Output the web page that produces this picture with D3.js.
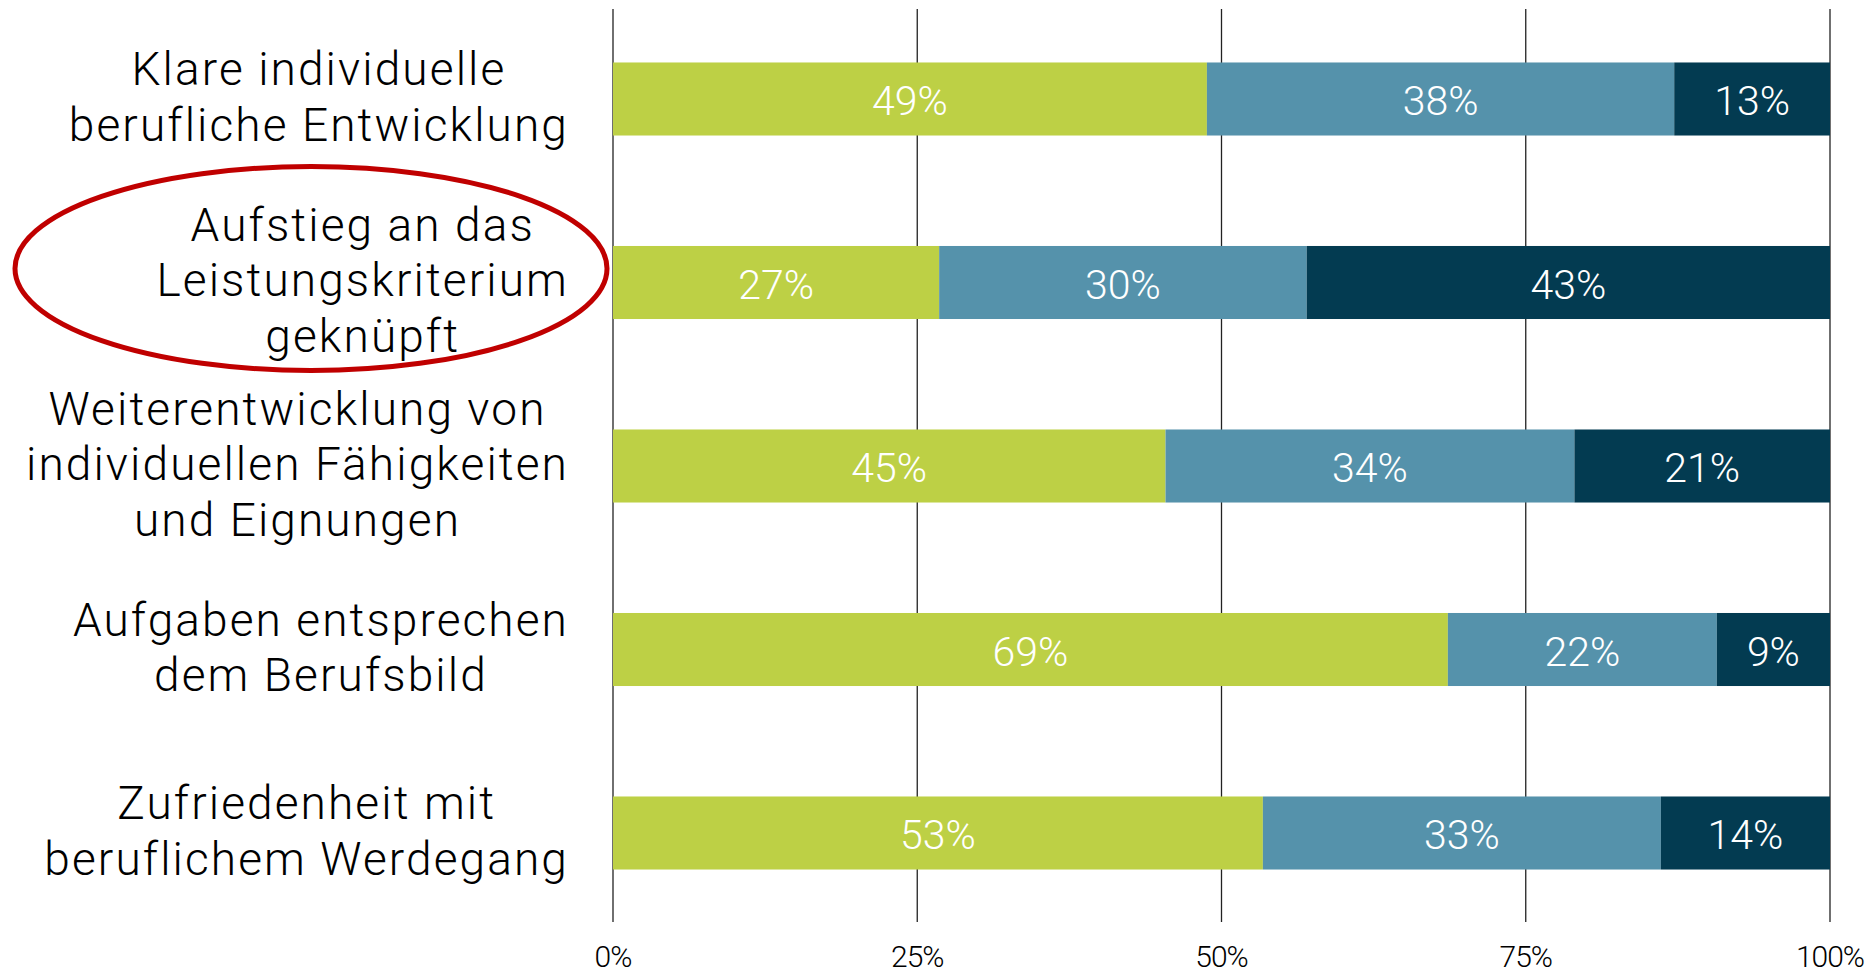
<!DOCTYPE html>
<html>
<head>
<meta charset="utf-8">
<script src="https://cdn.jsdelivr.net/npm/d3@7"></script>
<style>
  body { margin: 0; background: #fff; }
  svg { display: block; }
  text { font-family: Roboto, "Open Sans", sans-serif; font-weight: 300; }
</style>
</head>
<body>
<div id="chart"></div>
<script>

// categories (one entry per bar, split into lines as in the picture)
var categories = [
  ["Klare individuelle", "berufliche Entwicklung"],
  ["Aufstieg an das", "Leistungskriterium", "geknüpft"],
  ["Weiterentwicklung von", "individuellen Fähigkeiten", "und Eignungen"],
  ["Aufgaben entsprechen", "dem Berufsbild"],
  ["Zufriedenheit mit", "beruflichem Werdegang"]
];

// series values in percent
var greenValues = [48.8, 26.8, 45.4, 68.6, 53.4];
var blueValues  = [38.4, 30.2, 33.6, 22.1, 32.7];
var navyValues  = [12.8, 43.0, 21.0, 9.3, 13.9];

var seriesColors = ["#bdd045", "#5592ab", "#033b51"];

// x axis ticks
var xTicks = [0, 25, 50, 75, 100];

// highlighted category (red ellipse)
var highlighted = 1;

// set the dimensions of the graph
var width = 1870,
    height = 975;

var svg = d3.select("#chart").append("svg")
    .attr("width", width)
    .attr("height", height);

// set the ranges
var x = d3.scaleLinear().domain([0, 100]).range([613, 1830]);
var y = d3.scaleBand()
    .domain(d3.range(categories.length))
    .range([10, 922])
    .paddingInner(0.602)
    .paddingOuter(0.286);

// stack the data
var rows = categories.map(function(c, i) {
  return { i: i, green: greenValues[i], blue: blueValues[i], navy: navyValues[i] };
});
var keys = ["green", "blue", "navy"];
var stacked = d3.stack().keys(keys)(rows);

// gridlines
svg.append("g")
  .selectAll("line")
  .data(xTicks)
  .enter().append("line")
    .attr("x1", function(d) { return x(d); })
    .attr("x2", function(d) { return x(d); })
    .attr("y1", 9)
    .attr("y2", 922)
    .style("stroke", "#222")
    .style("stroke-width", 1.3);

// bars
var layer = svg.selectAll(".layer")
    .data(stacked)
  .enter().append("g")
    .attr("class", "layer")
    .style("fill", function(d, k) { return seriesColors[k]; });

layer.selectAll("rect")
    .data(function(d) { return d; })
  .enter().append("rect")
    .attr("x", function(d) { return x(d[0]); })
    .attr("y", function(d) { return y(d.data.i); })
    .attr("width", function(d) { return x(d[1]) - x(d[0]); })
    .attr("height", y.bandwidth());

// value labels
layer.selectAll("text")
    .data(function(d) { return d; })
  .enter().append("text")
    .attr("x", function(d) { return (x(d[0]) + x(d[1])) / 2; })
    .attr("y", function(d) { return y(d.data.i) + y.bandwidth() / 2; })
    .attr("dy", "0.4em")
    .style("text-anchor", "middle")
    .style("fill", "#fff")
    .style("font-size", "41px")
    .text(function(d) { return Math.round(d[1] - d[0]) + "%"; });

// x axis tick labels
svg.append("g")
  .selectAll("text")
  .data(xTicks)
  .enter().append("text")
    .attr("x", function(d) { return x(d); })
    .attr("y", 967)
    .style("text-anchor", "middle")
    .style("font-size", "30px")
    .style("letter-spacing", "-1px")
    .style("fill", "#000")
    .text(function(d) { return d + "%"; });

// category labels: lines centred within a block that ends at the right edge
var labelRight = 569,
    lineHeight = 55.5;

var label = svg.append("g").selectAll("g")
    .data(categories)
  .enter().append("g");

label.each(function(lines, i) {
  var g = d3.select(this);
  var cy = y(i) + y.bandwidth() / 2;
  var texts = g.selectAll("text")
      .data(lines)
    .enter().append("text")
      .attr("y", function(d, j) { return cy + (j - (lines.length - 1) / 2) * lineHeight + 14; })
      .style("font-size", "46px")
      .style("letter-spacing", "2.1px")
      .style("fill", "#000")
      .style("text-anchor", "middle")
      .text(function(d) { return d; });
  var maxW = 0;
  texts.each(function() { maxW = Math.max(maxW, this.getComputedTextLength()); });
  texts.attr("x", labelRight - maxW / 2);
});

// red ellipse around the highlighted label
svg.append("ellipse")
    .attr("cx", 311)
    .attr("cy", y(highlighted) + y.bandwidth() / 2 - 14)
    .attr("rx", 296)
    .attr("ry", 102)
    .style("fill", "none")
    .style("stroke", "#c00000")
    .style("stroke-width", 5);

</script>
</body>
</html>
